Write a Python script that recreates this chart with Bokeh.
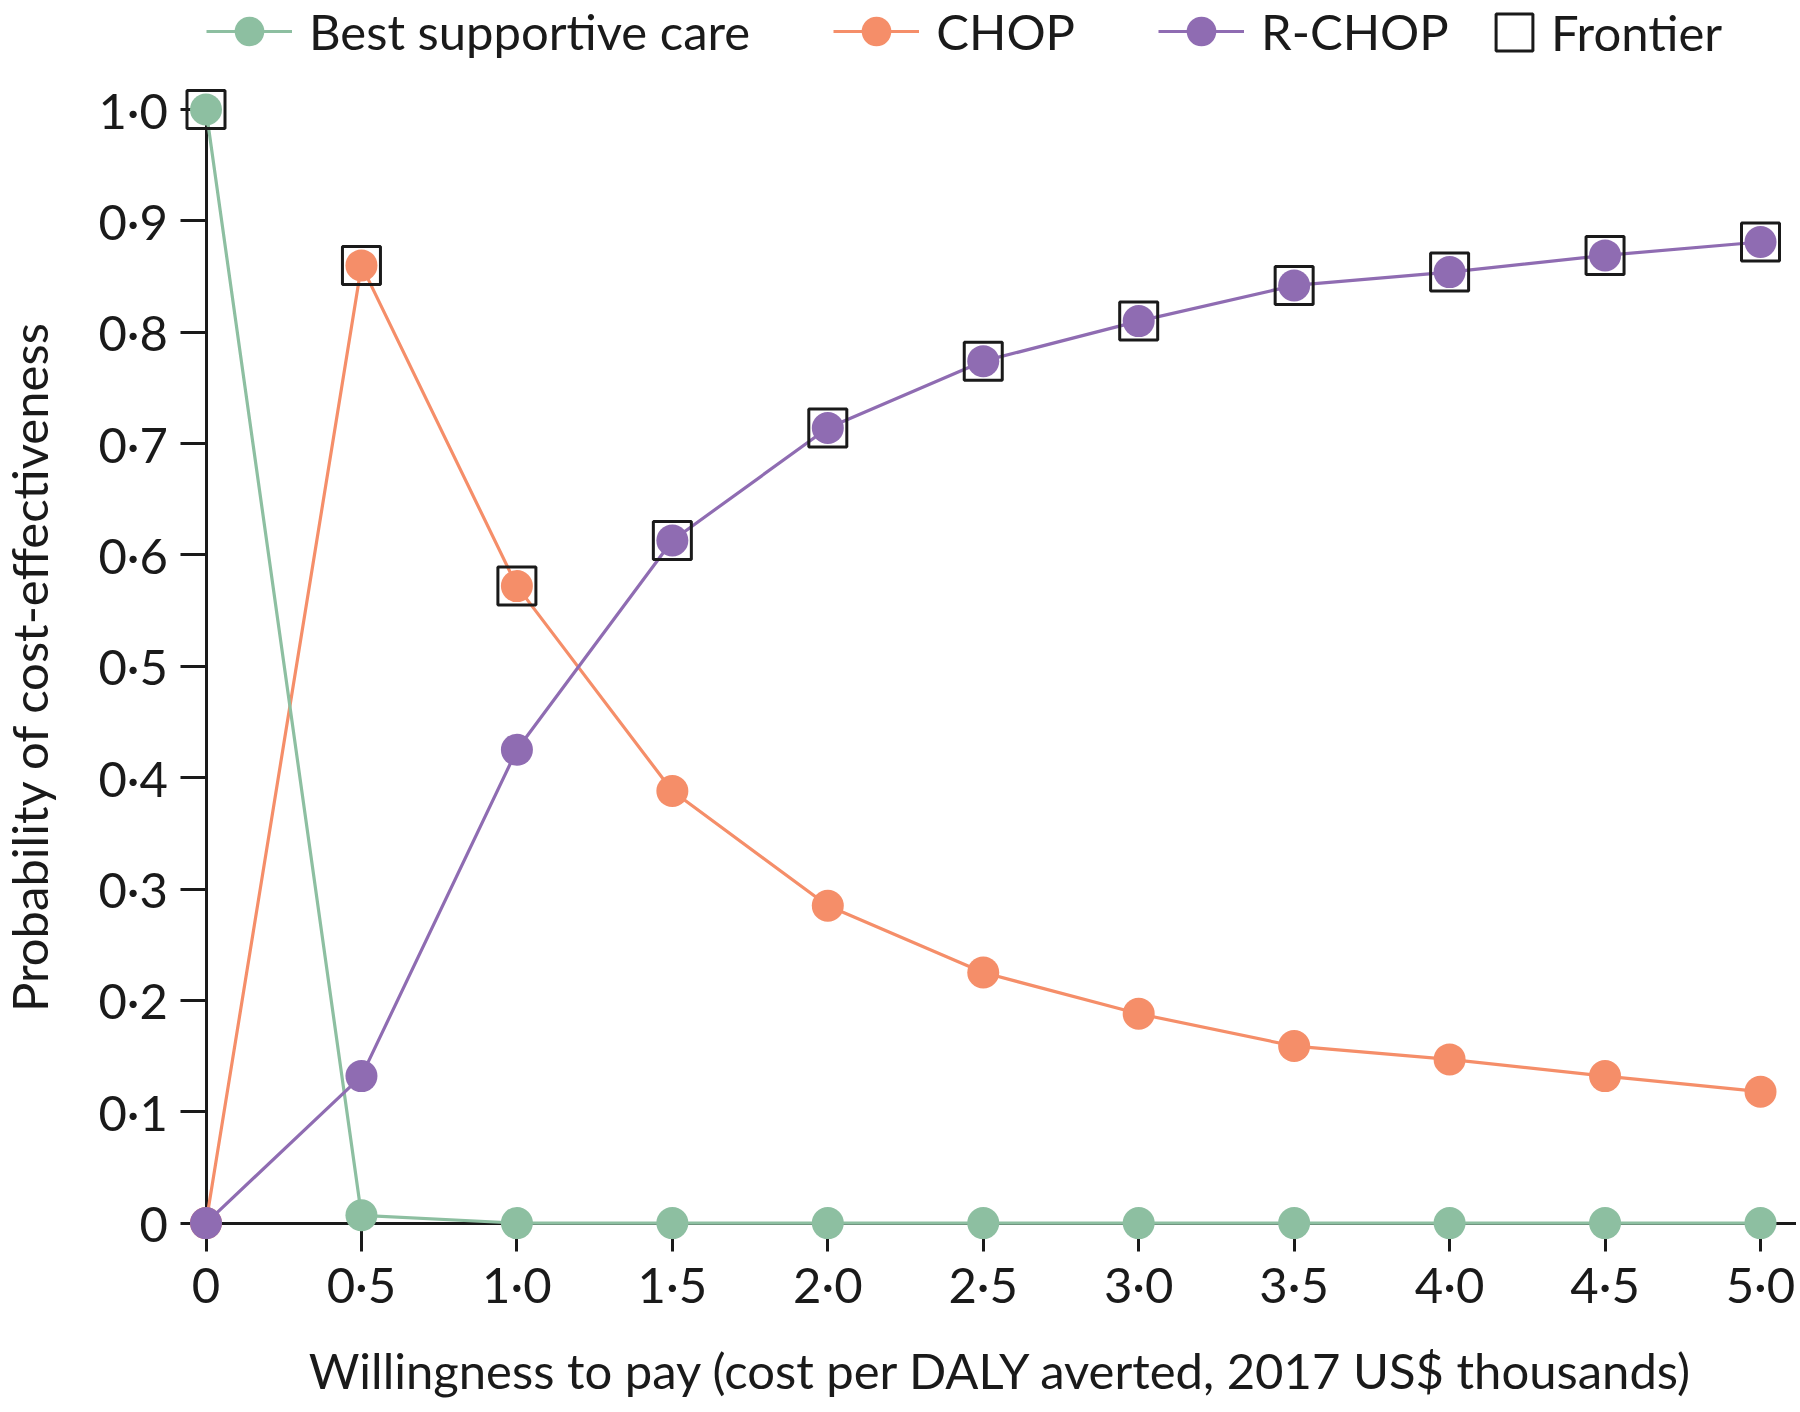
from bokeh.plotting import figure
from bokeh.models import Range1d, FixedTicker, Legend, LegendItem, LinearAxis
from bokeh.embed import file_html
from bokeh.resources import INLINE

# ---------------- data ----------------
wtp = [0.0, 0.5, 1.0, 1.5, 2.0, 2.5, 3.0, 3.5, 4.0, 4.5, 5.0]
best_supportive_care = [1.0, 0.007, 0.0, 0.0, 0.0, 0.0, 0.0, 0.0, 0.0, 0.0, 0.0]
chop = [0.0, 0.860, 0.572, 0.388, 0.285, 0.225, 0.188, 0.159, 0.147, 0.132, 0.118]
r_chop = [0.0, 0.132, 0.425, 0.613, 0.714, 0.774, 0.810, 0.842, 0.854, 0.869, 0.881]
frontier = [1.0, 0.860, 0.572, 0.613, 0.714, 0.774, 0.810, 0.842, 0.854, 0.869, 0.881]

x_ticks = [0.0, 0.5, 1.0, 1.5, 2.0, 2.5, 3.0, 3.5, 4.0, 4.5, 5.0]
x_tick_labels = ["0", "0·5", "1·0", "1·5", "2·0", "2·5", "3·0", "3·5", "4·0", "4·5", "5·0"]
y_ticks = [0.0, 0.1, 0.2, 0.3, 0.4, 0.5, 0.6, 0.7, 0.8, 0.9, 1.0]
y_tick_labels = ["0", "0·1", "0·2", "0·3", "0·4", "0·5", "0·6", "0·7", "0·8", "0·9", "1·0"]

series_names = ["Best supportive care", "CHOP", "R-CHOP"]
frontier_name = "Frontier"
x_title = "Willingness to pay (cost per DALY averted, 2017 US$ thousands)"
y_title = "Probability of cost-effectiveness"

# ---------------- style / layout ----------------
GREEN = "#8dbfa1"
ORANGE = "#f58e69"
PURPLE = "#8f6cb2"
INK = "#1a1a1a"
FONT = "Lato"
FS = "49px"
LEG_FS = "49px"

W, H = 1796, 1408
FL, FT, FR, FB = 0, 0, W, H               # frame fills the figure
X0_PX, X5_PX = 205.5, 1760.0              # where data x=0 and x=5 fall
Y0_PX, Y1_PX = 1222.6, 109.0              # where data y=0 and y=1 fall

xs = (X5_PX - X0_PX) / 5.0
x_start = (FL - X0_PX) / xs
x_end = 5.0 + (FR - X5_PX) / xs
ys = (Y0_PX - Y1_PX)
y_end = 1.0 + (Y1_PX - FT) / ys
y_start = -(FB - Y0_PX) / ys

p = figure(width=W, height=H,
           x_range=Range1d(x_start, x_end), y_range=Range1d(y_start, y_end),
           output_backend="svg", toolbar_location=None,
           min_border_left=0, min_border_right=0,
           min_border_top=0, min_border_bottom=0)
p.outline_line_color = None
p.xgrid.visible = False
p.ygrid.visible = False
p.background_fill_color = "white"
p.border_fill_color = "white"

x_label_map = {t: l for t, l in zip(x_ticks, x_tick_labels)}
y_label_map = {t: l for t, l in zip(y_ticks, y_tick_labels)}

# text-carrying axes (lines hidden)
for ax in (p.xaxis[0], p.yaxis[0]):
    ax.fixed_location = 0
    ax.axis_line_color = None
    ax.major_tick_line_color = None
    ax.minor_tick_line_color = None
    ax.major_tick_in = 0
    ax.major_label_text_font = FONT
    ax.major_label_text_font_size = FS
    ax.major_label_text_color = INK
    ax.axis_label_text_font = FONT
    ax.axis_label_text_font_size = FS
    ax.axis_label_text_font_style = "normal"
    ax.axis_label_text_color = INK

p.xaxis[0].ticker = FixedTicker(ticks=x_ticks)
p.xaxis[0].major_label_overrides = x_label_map
p.xaxis[0].major_tick_out = 28
p.xaxis[0].major_label_standoff = 4
p.xaxis[0].bounds = (0, x_end)
p.xaxis[0].axis_label = x_title
p.xaxis[0].axis_label_standoff = 24

p.yaxis[0].ticker = FixedTicker(ticks=y_ticks)
p.yaxis[0].major_label_overrides = y_label_map
p.yaxis[0].major_tick_out = 26
p.yaxis[0].major_label_standoff = 12
p.yaxis[0].bounds = (0, 1)
p.yaxis[0].axis_label = y_title
p.yaxis[0].axis_label_standoff = 38

# line-and-tick axes drawn beneath the data
xline = LinearAxis(fixed_location=0, ticker=FixedTicker(ticks=x_ticks), bounds=(0, x_end),
                   major_label_text_font_size="0px", major_label_text_alpha=0,
                   axis_line_width=3, axis_line_color=INK, major_tick_line_width=3,
                   major_tick_line_color=INK, major_tick_in=0, major_tick_out=28,
                   minor_tick_line_color=None, level="underlay")
yline = LinearAxis(fixed_location=0, ticker=FixedTicker(ticks=y_ticks), bounds=(0, 1),
                   major_label_text_font_size="0px", major_label_text_alpha=0,
                   axis_line_width=3, axis_line_color=INK, major_tick_line_width=3,
                   major_tick_line_color=INK, major_tick_in=0, major_tick_out=26,
                   minor_tick_line_color=None, level="underlay")
p.add_layout(xline, "below")
p.add_layout(yline, "left")

# ---------------- series ----------------
LW = 3.2
MS = 32
c_line = p.line(wtp, chop, line_color=ORANGE, line_width=LW)
c_pts = p.scatter(wtp, chop, size=MS, marker="circle", fill_color=ORANGE, line_color=None)
b_line = p.line(wtp, best_supportive_care, line_color=GREEN, line_width=LW)
b_pts = p.scatter(wtp, best_supportive_care, size=MS, marker="circle", fill_color=GREEN, line_color=None)
r_line = p.line(wtp, r_chop, line_color=PURPLE, line_width=LW)
r_pts = p.scatter(wtp, r_chop, size=MS, marker="circle", fill_color=PURPLE, line_color=None)
f_box = p.rect(wtp, frontier, width=38, height=38, width_units="screen", height_units="screen",
               fill_color=None, line_color=INK, line_width=3)

# ---------------- legends ----------------
LEG_CY = 30.5   # legend centre line (figure px from top)
GH1 = 74
leg1 = Legend(items=[LegendItem(label=series_names[0], renderers=[b_line, b_pts]),
                     LegendItem(label=series_names[1], renderers=[c_line, c_pts]),
                     LegendItem(label=series_names[2], renderers=[r_line, r_pts])],
              orientation="horizontal", location=(206 - FL, (FB - FT) - LEG_CY - GH1 / 2),
              glyph_width=86, glyph_height=GH1, label_standoff=17, spacing=83,
              padding=0, margin=0, border_line_color=None, background_fill_alpha=0,
              label_text_font=FONT, label_text_font_size=LEG_FS, label_text_color=INK)
leg2 = Legend(items=[LegendItem(label=frontier_name, renderers=[f_box])],
              orientation="horizontal", location=(1491 - FL, (FB - FT) - LEG_CY - 30),
              glyph_width=46, glyph_height=46, label_standoff=14,
              padding=0, margin=0, border_line_color=None, background_fill_alpha=0,
              label_text_font=FONT, label_text_font_size=LEG_FS, label_text_color=INK)
p.add_layout(leg1)
p.add_layout(leg2)

open("out.html", "w").write(file_html(p, INLINE))
